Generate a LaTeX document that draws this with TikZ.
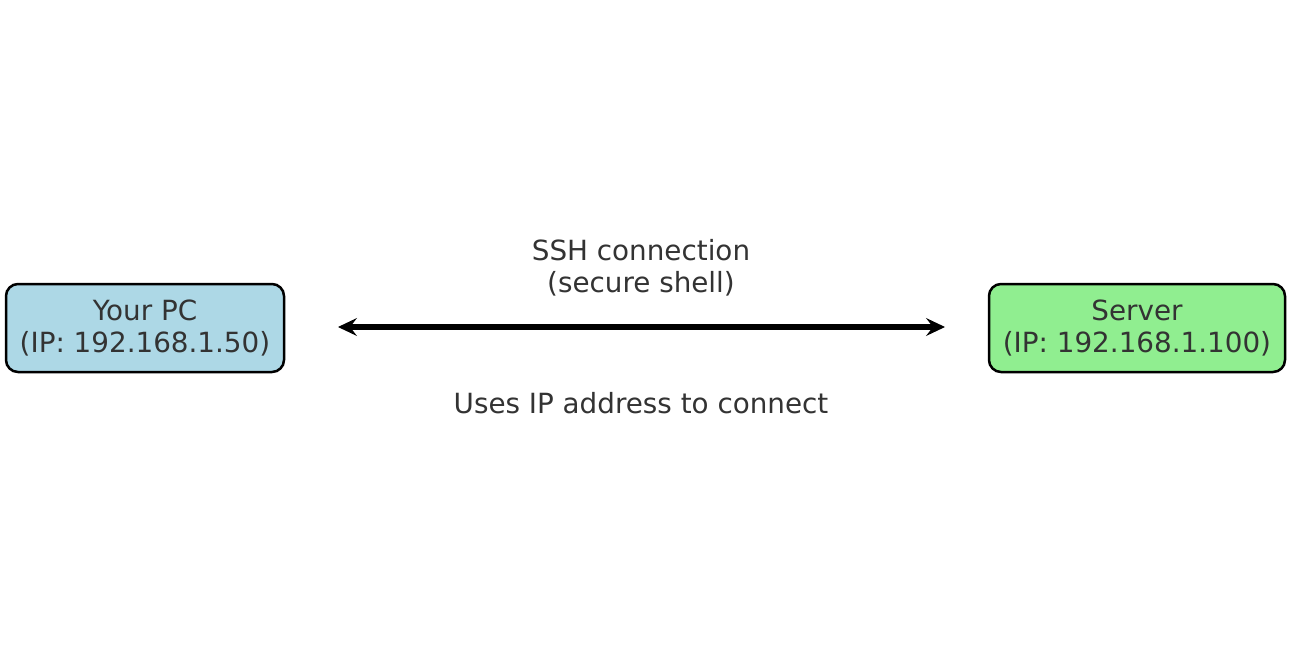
\documentclass[tikz,border=0pt]{standalone}
\usepackage{fontspec}
\setmainfont{DejaVu Sans}
\usetikzlibrary{arrows.meta}
\definecolor{txt}{HTML}{333333}
\definecolor{pcblue}{HTML}{ADD8E6}
\definecolor{srvgreen}{HTML}{90EE90}
\tikzset{tipshape/.tip={Stealth[length=19pt,width=18pt,inset=7pt,line width=1pt]}}
\begin{document}
\begin{tikzpicture}[x=1pt,y=-1pt,
  every node/.style={font=\fontsize{27.8}{32}\selectfont, text=txt, align=center, inner sep=0pt},
  hostbox/.style={draw=black, line width=2.5pt, rounded corners=12pt, minimum height=88pt},
  link/.style={line width=5.5pt, tipshape-tipshape}]
\fill[white] (0,0) rectangle (1291,656);
\useasboundingbox (0,0) rectangle (1291,656);
\node[hostbox, fill=pcblue, minimum width=278pt] (pc) at (145,328) {Your PC\\(IP: 192.168.1.50)};
\node[hostbox, fill=srvgreen, minimum width=296pt] (srv) at (1137,328) {Server\\(IP: 192.168.1.100)};
\coordinate (a) at (338,327);
\coordinate (b) at (945,327);
\draw[link] (a) -- (b);
\node[anchor=base] (ssh) at (641,292) {SSH connection\\(secure shell)};
\node[anchor=base] (uses) at (641,413) {Uses IP address to connect};
\end{tikzpicture}
\end{document}
